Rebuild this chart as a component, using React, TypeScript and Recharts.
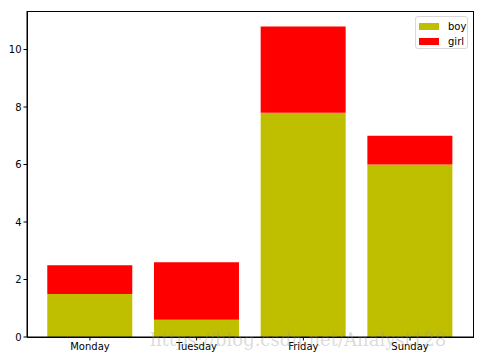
import { BarChart, Bar, XAxis, YAxis } from 'recharts';

const days = ['Monday', 'Tuesday', 'Friday', 'Sunday'];
const boy = [1.5, 0.6, 7.8, 6.0];
const girl = [1.0, 2.0, 3.0, 1.0];
const yTicks = [0, 2, 4, 6, 8, 10];

const data = days.map((day, i) => ({ day, boy: boy[i], girl: girl[i] }));

const BOY = '#bfbf00';
const GIRL = '#ff0000';
const font = 'DejaVu Sans, sans-serif';

function LegendBox() {
  const items = [
    { name: 'boy', color: BOY },
    { name: 'girl', color: GIRL },
  ];
  return (
    <div
      style={{
        position: 'absolute', left: 415, top: 16, width: 51, height: 31,
        border: '1px solid #d9d9d9', borderRadius: 3, background: 'rgba(255,255,255,0.8)',
        fontFamily: font, fontSize: 10, color: '#000',
      }}
    >
      {items.map((it, i) => (
        <div key={it.name} style={{ position: 'absolute', left: 3, top: 3 + i * 15, height: 12, display: 'flex', alignItems: 'center' }}>
          <span style={{ display: 'inline-block', width: 20, height: 7, background: it.color }} />
          <span style={{ marginLeft: 9 }}>{it.name}</span>
        </div>
      ))}
    </div>
  );
}

export default function App() {
  return (
    <div style={{ position: 'absolute', left: 0, top: 0, width: 483, height: 361, background: '#fff' }}>
      <BarChart
        width={483}
        height={361}
        data={data}
        margin={{ top: 11, right: 10, bottom: 0, left: 0 }}
        barCategoryGap="10%"
      >
        <XAxis
          dataKey="day"
          padding={{ left: 9.6, right: 9.6 }}
          height={24}
          stroke="#000"
          tickLine={{ stroke: '#000' }}
          tickSize={3.5}
          tick={{ fill: '#000', fontSize: 10, fontFamily: font }}
          interval={0}
        />
        <YAxis
          type="number"
          domain={[0, 11.34]}
          ticks={yTicks}
          allowDataOverflow
          width={27}
          stroke="#000"
          tickSize={3.5}
          tick={{ fill: '#000', fontSize: 10, fontFamily: font }}
        />
        <Bar dataKey="boy" stackId="a" fill={BOY} isAnimationActive={false} />
        <Bar dataKey="girl" stackId="a" fill={GIRL} isAnimationActive={false} />
      </BarChart>
      {/* frame for the top and right spines */}
      <div style={{ position: 'absolute', left: 27, top: 11, width: 445, height: 325, border: '1px solid #000', pointerEvents: 'none' }} />
      <LegendBox />
      <div
        style={{
          position: 'absolute', left: 150, top: 329, fontFamily: 'DejaVu Serif, serif', fontSize: 18,
          color: 'rgba(150,150,150,0.35)', whiteSpace: 'nowrap', pointerEvents: 'none',
        }}
      >
        https://blog.csdn.net/Analyst128
      </div>
    </div>
  );
}
